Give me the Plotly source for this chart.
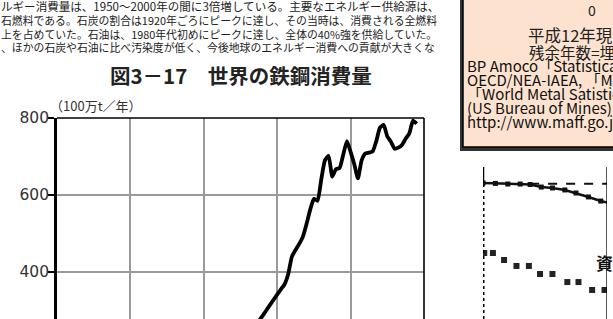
import plotly.graph_objects as go

W, H = 613, 319
def px(x): return x / W
def py(y): return 1 - y / H

# ---- main chart data (world steel consumption, 100万t/年) ----
years = [1953, 1955, 1957, 1959, 1961, 1962, 1963, 1964, 1965, 1966, 1967, 1968, 1969,
         1970, 1971, 1972, 1973, 1974, 1975, 1976, 1977, 1978, 1979, 1980, 1981, 1982,
         1983, 1984, 1985, 1986, 1987, 1988, 1989, 1990, 1991, 1992, 1993, 1994, 1995,
         1996, 1997, 1998]
steel = [235, 272, 300, 328, 355, 368, 395, 440, 457, 473, 492, 525, 562,
         590, 585, 640, 690, 702, 648, 667, 670, 705, 740, 712, 680, 643,
         690, 708, 710, 713, 740, 775, 782, 752, 738, 720, 723, 730, 746,
         760, 793, 785]
y_ticks = [400, 600, 800]
x_grid = [1920, 1940, 1960, 1980]

# ---- side chart data ----
s2_x = [0, 1, 2, 3, 3.8, 4.7, 5.6, 6.6, 7.5, 8.5, 9.5, 10.5]
s2_a = [89.5, 89.2, 88.8, 88.8, 88.5, 86.8, 86.2, 84.9, 82.9, 80.3, 77.6, 75.7]
s2_dash_x = [3.8, 10.0]
s2_dash_y = [89.0, 89.0]
s2_bx = [0.1, 0.8, 1.7, 2.7, 3.7, 4.6, 5.6, 6.8, 7.7, 8.8, 9.8]
s2_b = [43.4, 43.4, 38.8, 34.9, 34.9, 29.6, 29.6, 24.3, 24.3, 19.1, 19.1]

para = [
    "ルギー消費量は、1950～2000年の間に3倍増している。主要なエネルギー供給源は、",
    "石燃料である。石炭の割合は1920年ごろにピークに達し、その当時は、消費される全燃料",
    "上を占めていた。石油は、1980年代初めにピークに達し、全体の40%強を供給していた。",
    "、ほかの石炭や石油に比べ汚染度が低く、今後地球のエネルギー消費への貢献が大きくな",
]
para_sizes = [11.55, 10.85, 10.85, 10.85]
box_lines = [
    "BP Amoco「Statistical Review of World Energy」",
    "OECD/NEA-IAEA, 「Mineral Commodity」",
    "「World Metal Satistics」",
    "(US Bureau of Mines)",
    "http://www.maff.go.jp/",
]

JP = "Noto Sans CJK JP"
fig = go.Figure()

fig.add_trace(go.Scatter(x=years, y=steel, mode="lines",
                         line=dict(color="black", width=3.8, shape="spline", smoothing=0.5),
                         xaxis="x", yaxis="y", showlegend=False, cliponaxis=True))

# side chart traces
fig.add_trace(go.Scatter(x=s2_x, y=s2_a, mode="lines+markers",
                         line=dict(color="#111", width=2.5),
                         marker=dict(symbol="square", size=5, color="#111"),
                         xaxis="x2", yaxis="y2", showlegend=False))
fig.add_trace(go.Scatter(x=s2_dash_x, y=s2_dash_y, mode="lines",
                         line=dict(color="#111", width=2, dash="dash"),
                         xaxis="x2", yaxis="y2", showlegend=False))
fig.add_trace(go.Scatter(x=s2_bx, y=s2_b, mode="markers",
                         marker=dict(symbol="square", size=6, color="#222"),
                         xaxis="x2", yaxis="y2", showlegend=False))

shapes = []
# main frame: top and right borders
shapes.append(dict(type="line", xref="paper", yref="paper", x0=px(57), x1=px(424),
                   y0=py(118), y1=py(118), line=dict(color="black", width=1.6)))
shapes.append(dict(type="line", xref="paper", yref="paper", x0=px(424), x1=px(424),
                   y0=py(118), y1=0, line=dict(color="black", width=1.6)))
# peach box with shadow
shapes.append(dict(type="rect", xref="paper", yref="paper", x0=px(460), x1=px(640),
                   y0=py(151), y1=py(-10), fillcolor="#333", line=dict(width=0)))
shapes.append(dict(type="rect", xref="paper", yref="paper", x0=px(463), x1=px(640),
                   y0=py(147), y1=py(-10), fillcolor="#fde3cf",
                   line=dict(color="black", width=1.5)))
# side chart axes
shapes.append(dict(type="line", xref="x2", yref="y2", x0=0, x1=0, y0=89.5, y1=100,
                   line=dict(color="black", width=2.5)))
shapes.append(dict(type="line", xref="x2", yref="y2", x0=0, x1=0, y0=0, y1=89.5,
                   line=dict(color="black", width=3, dash="dot")))
shapes.append(dict(type="line", xref="x2", yref="y2", x0=10, x1=10, y0=0, y1=100,
                   line=dict(color="black", width=1.3)))

ann = []
def A(text, x, y, size, xanchor="center", color="#222", xref="paper", yref="paper"):
    ann.append(dict(text=text, x=x, y=y, xref=xref, yref=yref, xanchor=xanchor,
                    yanchor="middle", showarrow=False,
                    font=dict(family=JP, size=size, color=color)))

A("<b>図3－17　世界の鉄鋼消費量</b>", px(241), py(75), 20.5)
A("（100万t／年）", px(48), py(105), 13, "left", "#333")
for i, t in enumerate(para):
    A(t, px(-1), py(6 + 13.8 * i), para_sizes[i], "left", "#222")
A("0", px(592), py(10), 14)
A("平成12年現在の", px(526), py(35), 16.5, "left")
A("残余年数=埋蔵量／年間生産量", px(527), py(52), 15.5, "left")
for i, t in enumerate(box_lines):
    A(t, px(465), py(66 + 13.8 * i), 15, "left", "#111")
A("<b>資</b>", 9.8, 37, 17, "center", "#111", "x2", "y2")

fig.update_layout(
    width=W, height=H, margin=dict(l=0, r=0, t=0, b=0, autoexpand=False),
    paper_bgcolor="white", plot_bgcolor="rgba(0,0,0,0)",
    shapes=shapes, annotations=ann,
    xaxis=dict(domain=[px(57), px(424)], range=[1900, 2000], tickvals=x_grid,
               showticklabels=False, showgrid=True, gridcolor="#9a9a9a", gridwidth=1.5,
               zeroline=False, showline=False, ticks="", automargin=False),
    yaxis=dict(domain=[0, py(118)], range=[277.9, 800], tickvals=y_ticks,
               showgrid=True, gridcolor="#9a9a9a", gridwidth=1.5, zeroline=False,
               showline=True, linecolor="black", linewidth=2.6, automargin=False,
               ticks="outside", ticklen=6, tickwidth=1.6, tickcolor="black",
               ticklabelstandoff=-4,
               tickfont=dict(family="DejaVu Sans", size=15.5, color="#333")),
    xaxis2=dict(domain=[px(483), px(607)], range=[0, 10], visible=False, anchor="y2"),
    yaxis2=dict(domain=[0, py(167)], range=[0, 100], visible=False, anchor="x2"),
)

fig.write_html("out.html", config={"displayModeBar": False},
               post_script="document.body.style.margin='0';document.body.style.overflow='hidden';")
